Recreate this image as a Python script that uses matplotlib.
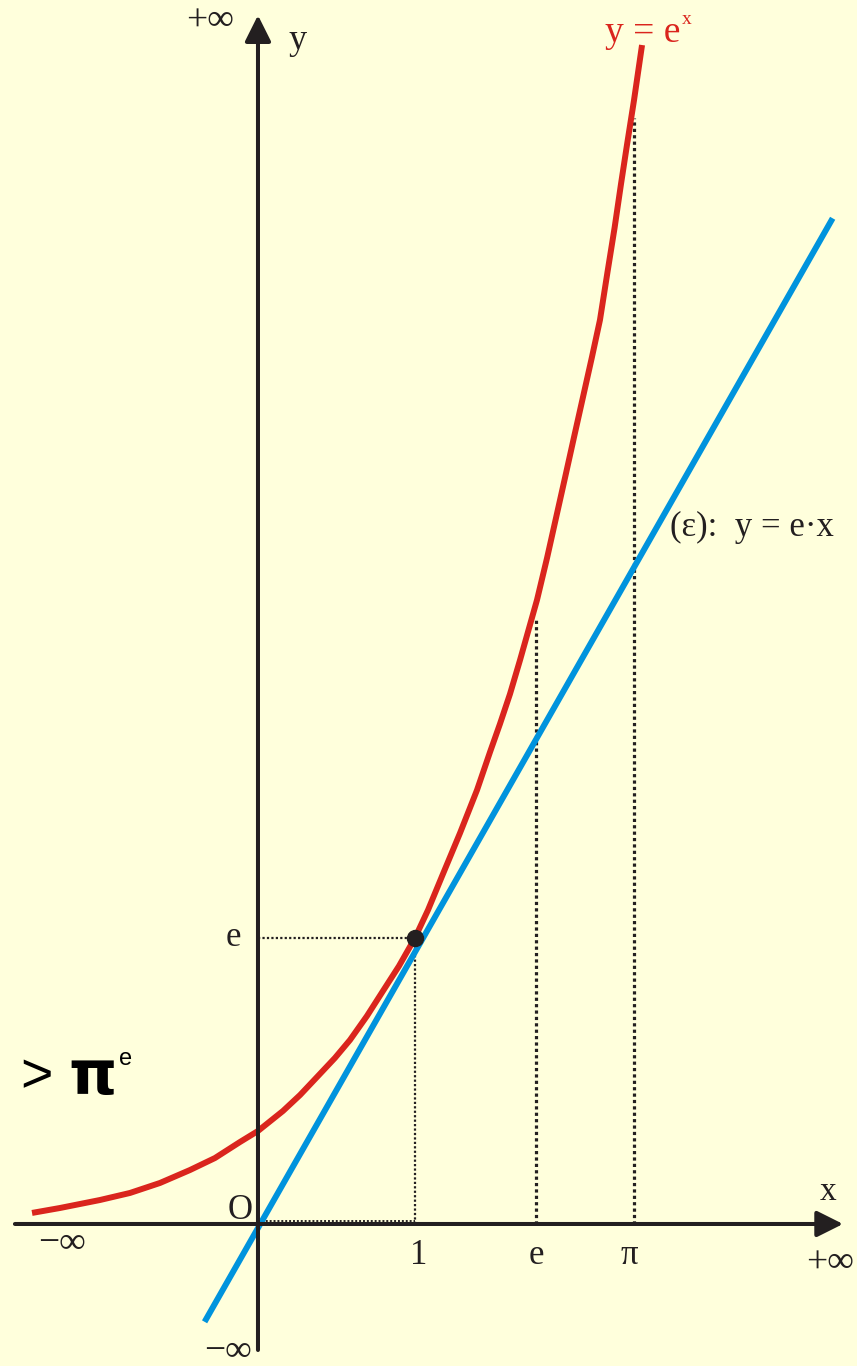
import numpy as np
import matplotlib.pyplot as plt

# schematic units: x = 1 is the tangent point, y = e its height
exp_x = [-1.439, -1.261, -1.006, -0.815, -0.624, -0.433, -0.274, -0.115, 0.0,
         0.159, 0.268, 0.376, 0.49, 0.586, 0.694, 0.796, 0.898, 1.0, 1.083,
         1.178, 1.287, 1.395, 1.478, 1.541, 1.605, 1.669, 1.732, 1.777, 1.841,
         1.898, 1.955, 2.013, 2.07, 2.127, 2.178, 2.226, 2.271, 2.312, 2.35,
         2.395, 2.446]
exp_y = [0.105, 0.152, 0.228, 0.295, 0.39, 0.513, 0.627, 0.779, 0.884,
         1.074, 1.226, 1.397, 1.578, 1.749, 1.977, 2.215, 2.452, 2.72, 2.985,
         3.327, 3.717, 4.125, 4.487, 4.753, 5.038, 5.361, 5.694, 5.932, 6.331,
         6.711, 7.091, 7.481, 7.861, 8.241, 8.593, 9.049, 9.468, 9.886, 10.257,
         10.684, 11.207]

tangent_x = [-0.34, 3.66]
tangent_y = [-0.93, 9.56]

# marks on the x axis and the height each dotted guide reaches
mark_x = [1.0, 1.771, 2.395]
mark_top = [2.72, 5.74, 10.51]
mark_labels = ['1', 'e', 'π']

touch_x, touch_y = 1.0, 2.72

BG = '#FFFFDC'
RED = '#DA251D'
BLUE = '#0093DD'
INK = '#231F20'
SERIF = ['Liberation Serif', 'DejaVu Serif']
SANS = ['Liberation Sans', 'DejaVu Sans']

fig = plt.figure(figsize=(8.57, 13.66), dpi=100, facecolor=BG)
ax = fig.add_axes([0, 0, 1, 1])
ax.set_facecolor(BG)
ax.set_xlim(-1.643, 3.815)
ax.set_ylim(-1.35, 11.635)
ax.axis('off')

# axes with arrow heads
arrow = dict(arrowstyle='-|>,head_length=0.8,head_width=0.4', mutation_scale=20,
             lw=2.9, color=INK, shrinkA=0, shrinkB=0)
ax.annotate('', xy=(3.726, 0), xytext=(-1.548, 0), arrowprops=arrow)
ax.annotate('', xy=(0, 11.49), xytext=(0, -1.198), arrowprops=arrow)

# dotted guides
dots = (0, (1, 1))
ax.plot([0, touch_x], [touch_y, touch_y], color=INK, lw=1.6, ls=dots)
ax.plot([0, touch_x], [0.03, 0.03], color=INK, lw=1.4, ls=dots)
for i, (mx, top) in enumerate(zip(mark_x, mark_top)):
    ax.plot([mx, mx], [0, top], color=INK, lw=1.6 if i == 0 else 2.3, ls=dots)

ax.plot(tangent_x, tangent_y, color=BLUE, lw=4.3, solid_capstyle='butt')
ax.plot(exp_x, exp_y, color=RED, lw=4.3, solid_capstyle='butt',
        solid_joinstyle='round')
ax.plot([touch_x], [touch_y], 'o', color=INK, ms=11.5, zorder=5)

# axis texts
kw = dict(family=SERIF, color=INK, ha='center', va='center')
for mx, lab, dx in zip(mark_x, mark_labels, [0.025, 0.0, -0.03]):
    ax.text(mx + dx, -0.3, lab, fontsize=25, **kw)
ax.text(-0.159, touch_y, 'e', fontsize=25, **kw)
ax.text(-0.115, 0.13, 'O', fontsize=25, **kw)
ax.text(-0.306, 11.43, '+∞', fontsize=27, **kw)
ax.text(0.255, 11.25, 'y', fontsize=26, **kw)
ax.text(-0.191, -1.21, '−∞', fontsize=27, **kw)
ax.text(3.63, 0.31, 'x', fontsize=24, **kw)
ax.text(3.643, -0.371, '+∞', fontsize=27, **kw)
ax.text(-1.248, -0.19, '−∞', fontsize=27, **kw)

# curve labels
ax.text(2.21, 11.236, 'y = e', fontsize=27, family=SERIF, color=RED,
        ha='left', va='baseline')
ax.text(2.70, 11.445, 'x', fontsize=14, family=SERIF, color=RED,
        ha='left', va='center')
ax.text(2.624, 6.625, '(ε):  y = e·x', fontsize=25, family=SERIF, color=INK,
        ha='left', va='center')

ax.text(-1.516, 1.39, '>', fontsize=40, family=SANS, color='black',
        ha='left', va='center')
ax.text(-1.21, 1.39, 'π', fontsize=44, family='DejaVu Sans', weight='bold',
        color='black', ha='left', va='center')
ax.text(-0.885, 1.568, 'e', fontsize=17, family=SANS, color='black',
        ha='left', va='center')

fig.savefig('out.png', dpi=100, facecolor=BG)
